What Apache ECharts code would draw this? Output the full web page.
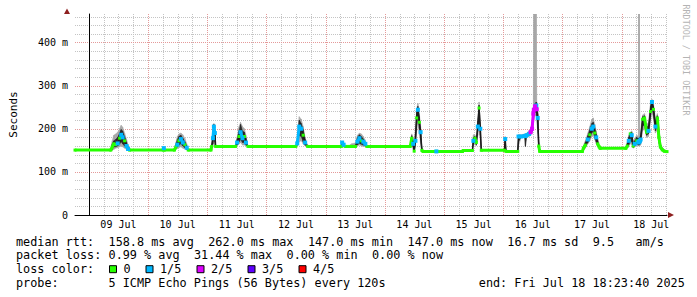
<!DOCTYPE html>
<html><head><meta charset="utf-8">
<script src="https://cdn.jsdelivr.net/npm/echarts@6/dist/echarts.min.js"></script>
<style>html,body{margin:0;padding:0;background:#fff}#c{width:697px;height:297px}</style>
</head><body><div id="c"></div>
<script>
// ---- data (hours since 09 Jul 00:00, values in ms) ----
const hours = [-5.6,8.9,9.5,10.1,10.9,11.7,12.5,13.1,13.7,14.5,15.3,15.9,16.5,30.2,30.4,30.6,
34.7,35.3,35.9,36.5,37.3,38.1,38.9,39.7,40.3,49.5,49.8,50.3,50.7,51.1,51.4,
59.5,60.1,60.9,61.5,62.3,63.1,63.7,64.5,83.9,84.5,85.3,86.1,86.9,87.7,88.7,
102.4,102.7,103.3,103.9,104.9,106.5,108.1,108.9,109.7,110.5,111.3,112.1,112.7,
130.3,130.9,131.5,131.9,132.4,132.9,133.4,134.0,134.5,135.0,135.5,140.7,140.9,141.1,151.5,151.8,
155.5,155.9,156.5,157.1,157.7,158.2,158.7,159.1,168.5,168.8,169.1,
173.9,174.2,175.3,176.7,177.0,177.5,178.5,179.1,179.7,180.2,180.4,180.9,181.4,181.6,182.0,182.4,182.8,
200.1,200.5,201.3,202.3,203.1,203.9,204.5,205.1,205.7,206.3,206.9,207.3,
217.7,218.3,218.9,219.5,220.1,220.7,221.3,222.1,222.8,222.9,223.2,223.4,223.7,224.5,225.3,226.1,226.9,
227.7,228.3,228.9,229.7,230.5,231.1,231.7,232.5,233.3,234.4];
const medianMs = [150.5,150.5,158,165,163,166,178,186,180,172,160,153,150.5,150.5,155,150.5,
150.5,158,163,172,176,168,163,156,150.5,150.5,159,178,205,190,159,
159,168,182,192,178,182,168,159,159,166,205,200,185,168,159,
159,168,163,159,159,159,159,170,178,172,170,165,159,
159,178,165,148,172,225,244,215,192,150,147.4,147.4,147.4,147.4,147.4,149.5,
149.5,172,178,168,205,248,200,150,150,176,147.4,
147.4,182,182,183,183,185,188,192,200,235,244,252,254,245,225,160,147.4,
147.4,155,162,175,186,200,205,190,180,165,158,154.5,
154.5,160,172,188,185,160,165,172,168,170,170,172,175,222,225,192,195,
240,262,245,205,225,180,158,151,148,147];
// loss per sample: 0 = 0/5, 1 = 1/5, 2 = 2/5 ...
const lossIdx = [0,0,0,0,0,1,0,1,1,0,1,1,0,0,1,0,
0,0,1,0,1,1,0,1,0,0,0,1,1,1,0,
0,1,0,1,1,0,1,0,0,1,1,1,0,1,0,
0,1,1,0,0,0,0,1,1,0,1,1,0,
0,0,1,0,1,0,1,0,1,0,0,0,1,0,0,0,
0,1,0,0,1,0,1,0,0,1,0,
0,1,1,1,1,1,1,2,2,2,2,2,1,2,1,0,0,
0,0,0,1,0,1,1,0,1,0,0,0,
0,0,1,0,1,0,1,0,1,1,1,1,1,0,0,0,1,
0,1,0,1,0,0,0,0,0,0];
const smokeLow = [null,150.5,150,152,155,156,158,160,158,155,152,150,150.5,null,null,null,
150.5,152,154,156,158,155,153,151,150.5,null,159,160,170,162,159,
159,160,165,168,162,162,160,159,159,160,170,172,165,160,159,
159,159,159,159,159,159,158,160,162,160,159,159,159,
159,165,152,146,160,195,215,190,165,147.4,147.4,null,null,null,null,null,
149.5,160,165,160,185,225,175,150,150,150,147.4,
147.4,160,180,180,159,180,182,185,190,210,220,230,232,220,190,150,147.4,
147.4,150,155,165,172,182,185,175,165,158,154.5,154.5,
154.5,155,160,165,163,155,158,162,160,160,160,161,162,195,200,180,182,
215,240,222,190,198,165,152,148,147,147];
const smokeHigh = [null,150.5,172,185,188,192,200,208,204,190,175,162,150.5,null,null,null,
150.5,168,182,188,190,186,178,165,150.5,null,159,195,212,200,159,
159,180,205,215,205,200,185,159,159,175,228,222,205,180,159,
159,170,166,159,159,165,167,185,190,188,182,172,159,
159,188,178,160,200,245,259,235,205,160,147.4,null,null,null,null,null,
149.5,186,186,178,225,262,215,150,150,182,147.4,
147.4,186,186,188,188,190,195,200,215,250,520,520,520,262,240,175,147.4,
147.4,160,172,190,205,222,225,210,195,178,162,154.5,
154.5,170,185,192,195,170,178,185,182,520,520,186,190,232,235,210,215,
258,268,258,225,235,205,168,156,152,147];
const coreLow = [null,150.5,152,158,158,160,165,170,165,160,155,151,150.5,null,null,null,
150.5,154,158,162,165,160,156,152,150.5,null,159,165,190,170,159,
159,162,170,175,168,168,162,159,159,162,185,182,170,162,159,
159,160,160,159,159,159,159,163,166,164,162,160,159,
159,170,158,147,165,210,232,200,175,148,147.4,null,null,null,null,null,
149.5,165,170,163,195,238,185,150,150,160,147.4,
147.4,170,181,181,159,183,185,188,194,222,232,238,240,230,200,152,147.4,
147.4,152,158,168,178,190,195,180,170,160,155,154.5,
154.5,157,163,172,170,157,160,166,162,163,163,164,166,205,210,185,188,
228,250,232,195,208,170,155,149,147,147];
const coreHigh = [null,150.5,165,172,175,180,190,198,195,182,168,158,150.5,null,null,null,
150.5,163,175,182,185,178,170,160,150.5,null,159,188,210,195,159,
159,175,195,210,195,192,178,159,159,170,220,212,198,175,159,
159,168,164,159,159,159,161,180,186,182,176,168,159,
159,184,172,155,188,238,252,228,198,155,147.4,null,null,null,null,null,
149.5,180,182,174,218,255,208,150,150,180,147.4,
147.4,183,183,185,185,188,192,196,208,245,252,258,262,255,235,168,147.4,
147.4,158,168,184,198,212,215,202,188,172,160,154.5,
154.5,166,180,190,192,165,172,180,176,178,178,180,185,228,230,202,208,
252,266,252,218,230,195,163,154,150,147];
const dayLabelHours = [12,36,60,84,108,132,156,180,204,228];
const dayLabels = ['09 Jul','10 Jul','11 Jul','12 Jul','13 Jul','14 Jul','15 Jul','16 Jul','17 Jul','18 Jul'];
const dayLineHours = [0,24,48,72,96,120,144,168,192,216];
const sixHourLineHours = [6,12,18,30,36,42,54,60,66,78,84,90,102,108,114,126,132,138,150,156,162,174,180,186,198,204,210,222,228,234];
const yTickValues = [0,100,200,300,400];
const yMajorLines = [100,200,300,400];
const yMinorLines = [20,40,60,80,120,140,160,180,220,240,260,280,320,340,360,380,420,440,460];
const lossLabels = ['0','1/5','2/5','3/5','4/5'];
const lossColors = ['#26ff00','#00b8ff','#dd00ff','#5e00ff','#ff0000'];
const rttStats = ['median rtt:','158.8 ms avg','262.0 ms max','147.0 ms min','147.0 ms now','16.7 ms sd','9.5','am/s'];
const lossStats = ['packet loss:','0.99 % avg','31.44 % max','0.00 % min','0.00 % now'];
const probeText = ['probe:','5 ICMP Echo Pings (56 Bytes) every 120s','end: Fri Jul 18 18:23:40 2025'];

// ---- layout ----
const MONO = '"DejaVu Sans Mono", monospace';
const CW = 7.12, LX = 16;
const rttCols = [0,13,27,41,55,69,81,87];
const lossCols = [0,13,25,38,50];
const probeCols = [0,13,65];
const lineY = [241.5, 255.4, 269.2, 283];
const boxX = [109,145.5,196.5,247.5,298.5];
const GRAY = '#c4c4c4', RED = '#e49a9a';

const chart = echarts.init(document.getElementById('c'), null, {renderer:'svg'});

function bandItems(lo, hi){
  const out = [];
  for (let i = 0; i < hours.length - 1; i++) {
    if (lo[i]==null || hi[i]==null || lo[i+1]==null || hi[i+1]==null) continue;
    if (hi[i] <= lo[i] && hi[i+1] <= lo[i+1]) continue;
    out.push([hours[i], hours[i+1], lo[i], lo[i+1], hi[i], hi[i+1]]);
  }
  return out;
}
function bandSeries(name, lo, hi, color, z){
  return {type:'custom', name, z, silent:true, clip:true,
    data: bandItems(lo, hi), encode:{x:[0,1], y:[2,3,4,5]},
    renderItem(params, api){
      const p = [api.coord([api.value(0), api.value(2)]), api.coord([api.value(1), api.value(3)]),
                 api.coord([api.value(1), api.value(5)]), api.coord([api.value(0), api.value(4)])];
      const pts = echarts.graphic.clipPointsByRect(p, params.coordSys);
      return {type:'polygon', shape:{points:pts}, style:{fill:color, stroke:color, lineWidth:0.5}};
    }};
}
function vLines(name, vals, color){
  return {type:'custom', name, z:1, silent:true, data: vals.map(v=>[v, 0]), encode:{x:0, y:1},
    renderItem(params, api){
      const cs = params.coordSys;
      const x = Math.round(api.coord([api.value(0), 0])[0]) + 0.5;
      return {type:'line', shape:{x1:x, y1:cs.y, x2:x, y2:cs.y+cs.height}, style:{stroke:color, lineWidth:1, lineDash:[1,1]}};
    }};
}
function hLines(name, vals, color){
  return {type:'custom', name, z:1, silent:true, data: vals.map(v=>[-5.6, v]), encode:{x:0, y:1},
    renderItem(params, api){
      const cs = params.coordSys;
      const y = Math.round(api.coord([0, api.value(1)])[1]) + 0.5;
      return {type:'line', shape:{x1:cs.x, y1:y, x2:cs.x+cs.width, y2:y}, style:{stroke:color, lineWidth:1, lineDash:[1,1]}};
    }};
}

const graphics = [];
function txt(x,y,t,extra){ graphics.push(Object.assign({type:'text', x, y, silent:true, style:Object.assign({text:t, font:'11.8px '+MONO, fill:'#000', textAlign:'left', textVerticalAlign:'middle'}, extra||{})})); }
rttStats.forEach((t,i)=>txt(LX+rttCols[i]*CW, lineY[0], t));
lossStats.forEach((t,i)=>txt(LX+lossCols[i]*CW, lineY[1], t));
txt(LX, lineY[2], 'loss color:');
lossLabels.forEach((t,i)=>{
  graphics.push({type:'rect', silent:true, shape:{x:boxX[i]+0.5, y:lineY[2]-3.5, width:7, height:7}, style:{fill:lossColors[i], stroke:'#000', lineWidth:1}});
  txt(boxX[i]+14.5, lineY[2], t);
});
probeText.forEach((t,i)=>txt(LX+probeCols[i]*CW, lineY[3], t));
graphics.push({type:'text', x:686, y:60, rotation:-Math.PI/2, silent:true, style:{text:'RRDTOOL / TOBI OETIKER', font:'8.4px '+MONO, fill:'#b4b4b4', textAlign:'center', textVerticalAlign:'middle'}});
graphics.push({type:'polygon', silent:true, shape:{points:[[64,14],[70,14],[67,8.5]]}, style:{fill:'#8e2020'}});
graphics.push({type:'polygon', silent:true, shape:{points:[[668,212],[668,218],[674,215]]}, style:{fill:'#8e2020'}});

const medianTrace = {type:'line', name:'median', data: hours.map((h,i)=>[h, medianMs[i]]),
  symbol:'none', lineStyle:{color:'#1c1c1c', width:1.5}, z:9, silent:true};
const lossSeries = lossColors.map((c,L)=>({
  type:'line', name:'loss'+L,
  data: hours.map((h,i)=>[h, lossIdx[i]===L ? medianMs[i] : null]),
  connectNulls:false, symbol:'rect', symbolSize: L===0?3:4, showSymbol:true,
  itemStyle:{color:c}, lineStyle:{color:c, width:3}, z:10+L, silent:true
}));

chart.setOption({
  animation:false,
  backgroundColor:'#ffffff',
  grid:{left:67, right:30, top:14, bottom:82, containLabel:false},
  xAxis:{type:'value', min:-5.606, max:234.394, z:5,
    axisLine:{show:true, lineStyle:{color:'#000', width:1}},
    axisTick:{show:false}, splitLine:{show:false},
    axisLabel:{customValues:dayLabelHours, formatter:v=>dayLabels[dayLabelHours.indexOf(v)], color:'#000', fontFamily:MONO, fontSize:10, margin:4}},
  yAxis:{type:'value', min:0, max:466, z:5,
    name:'Seconds', nameLocation:'middle', nameRotate:90, nameGap:56,
    nameTextStyle:{fontFamily:MONO, fontSize:11, color:'#000'},
    axisLine:{show:true, lineStyle:{color:'#000', width:1}},
    axisTick:{show:false}, splitLine:{show:false},
    axisLabel:{customValues:yTickValues, formatter:v=> v===0 ? '0' : v+' m', color:'#000', fontFamily:MONO, fontSize:10, margin:7}},
  graphic: graphics,
  series:[
    vLines('sixHourGrid', sixHourLineHours, GRAY),
    hLines('minorGrid', yMinorLines, GRAY),
    vLines('dayGrid', dayLineHours, RED),
    hLines('majorGrid', yMajorLines, RED),
    bandSeries('smoke', smokeLow, smokeHigh, '#a6a6a6', 3),
    bandSeries('smokeCore', coreLow, coreHigh, '#262626', 4),
    medianTrace,
    ...lossSeries
  ]
});
</script></body></html>
